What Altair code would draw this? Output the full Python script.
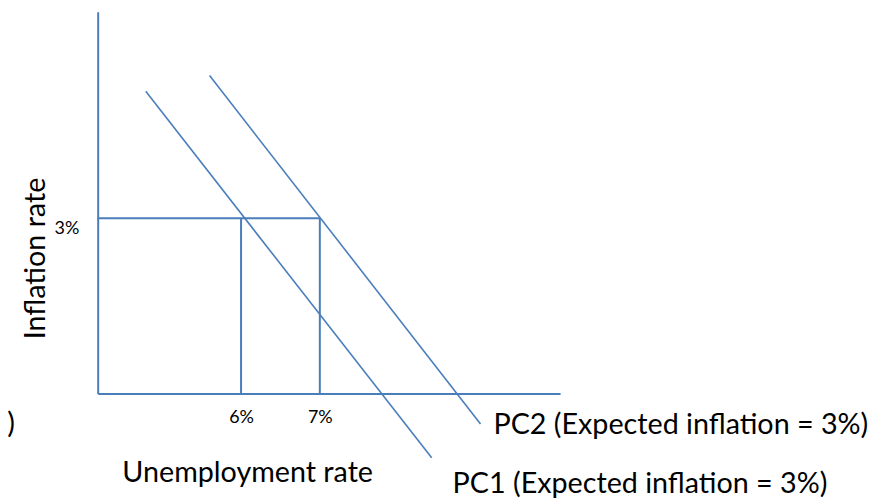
import altair as alt
import pandas as pd

# Phillips curves (end points): unemployment %, inflation %
pc1_unemp = [4.79, 8.42]
pc1_infl = [5.17, -1.10]
pc2_unemp = [5.60, 9.04]
pc2_infl = [5.44, -0.52]

# reference levels
ref_unemp = [6, 7]
ref_infl = [3]
x_ticks = [6, 7]
y_ticks = [3]

x_title = "Unemployment rate"
y_title = "Inflation rate"
pc1_label = "PC1 (Expected inflation = 3%)"
pc2_label = "PC2 (Expected inflation = 3%)"
cut_label = "%)"

X_DOMAIN = [4.18, 10.05]
Y_DOMAIN = [0, 6.53]
BLUE = "#4a7ebb"
FONT = "Lato"
BIG = 28.8
SMALL = 18

pc_df = pd.DataFrame({
    "curve": ["PC1"] * len(pc1_unemp) + ["PC2"] * len(pc2_unemp),
    "u": pc1_unemp + pc2_unemp,
    "pi": pc1_infl + pc2_infl,
})

guide_df = pd.DataFrame({
    "u": [X_DOMAIN[0]] + ref_unemp,
    "u2": [max(ref_unemp)] + ref_unemp,
    "pi": ref_infl + [0] * len(ref_unemp),
    "pi2": ref_infl + ref_infl * len(ref_unemp),
})

xs = alt.Scale(domain=X_DOMAIN, nice=False, zero=False)
ys = alt.Scale(domain=Y_DOMAIN, nice=False, zero=False)

x_axis = alt.Axis(
    values=x_ticks, labelExpr="datum.value + '%'", ticks=False, grid=False,
    domainColor=BLUE, domainWidth=2, labelFont=FONT, labelFontSize=SMALL,
    labelColor="black", labelPadding=15, labelFlush=False,
    title=x_title, titleFont=FONT, titleFontSize=BIG, titleFontWeight="normal",
    titleColor="black", titleX=150, titleY=88, titleAlign="center",
    titleBaseline="alphabetic",
)
y_axis = alt.Axis(
    values=y_ticks, labelExpr="datum.value + '%'", ticks=False, grid=False,
    domainColor=BLUE, domainWidth=2, labelFont=FONT, labelFontSize=SMALL,
    labelColor="black", labelPadding=19, labelOffset=10, labelFlush=False,
    title=y_title, titleFont=FONT, titleFontSize=BIG, titleFontWeight="normal",
    titleColor="black", titleX=-53, titleY=247, titleAlign="center",
    titleBaseline="alphabetic", titleAngle=270,
)

lines = alt.Chart(pc_df).mark_line(color=BLUE, strokeWidth=1.6).encode(
    x=alt.X("u:Q", scale=xs, axis=x_axis),
    y=alt.Y("pi:Q", scale=ys, axis=y_axis),
    detail="curve:N",
)

guides = alt.Chart(guide_df).mark_rule(color=BLUE, strokeWidth=2).encode(
    x=alt.X("u:Q", scale=xs), x2="u2:Q",
    y=alt.Y("pi:Q", scale=ys), y2="pi2:Q",
)

def end_label(text, u, pi, dx, dy, align="left"):
    df = pd.DataFrame({"u": [u], "pi": [pi], "t": [text]})
    return alt.Chart(df).mark_text(
        align=align, baseline="alphabetic", dx=dx, dy=dy,
        font=FONT, fontSize=BIG, color="black",
    ).encode(x=alt.X("u:Q", scale=xs), y=alt.Y("pi:Q", scale=ys), text="t:N")

pc1_text = end_label(pc1_label, pc1_unemp[-1], pc1_infl[-1], 21, 35)
pc2_text = end_label(pc2_label, pc2_unemp[-1], pc2_infl[-1], 13, 10)
cut_text = end_label(cut_label, X_DOMAIN[0], 0, -83, 40, align="right")

chart = alt.layer(guides, lines, pc1_text, pc2_text, cut_text).properties(
    width=464, height=383,
    autosize=alt.AutoSizeParams(type="none"),
    padding={"left": 90, "top": 3, "right": 312, "bottom": 105},
    background="white",
).configure_view(stroke=None)

chart.save("out.html", embed_options={"renderer": "svg", "actions": False})
